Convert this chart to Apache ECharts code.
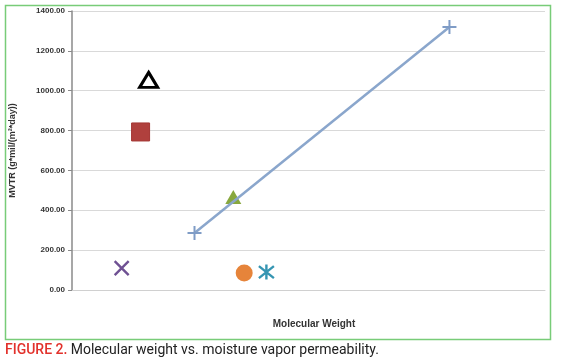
<!DOCTYPE html>
<html><head><meta charset="utf-8">
<script src="https://cdn.jsdelivr.net/npm/echarts@6/dist/echarts.min.js"></script>
<style>html,body{margin:0;padding:0;background:#fff}#c{width:562px;height:363px}</style>
</head><body><div id="c"></div>
<script>
// Y axis ticks
const yTicks = [0, 200, 400, 600, 800, 1000, 1200, 1400];
// Series (x = relative molecular weight position, y = MVTR)
const plusX = [25.9, 79.8], plusY = [286, 1320];
const openTriX = [16.2], openTriY = [1054];
const squareX = [14.5], squareY = [793];
const crossX = [10.5], crossY = [110];
const greenTriX = [34.1], greenTriY = [467];
const circleX = [36.4], circleY = [85];
const starX = [41.1], starY = [90];
const zip = (a, b) => a.map((v, i) => [v, b[i]]);

const chart = echarts.init(document.getElementById('c'));
const font = 'Liberation Sans';
chart.setOption({
  animation: false,
  backgroundColor: '#fff',
  grid: { left: 70, right: 17, top: 11, bottom: 73 },
  xAxis: {
    type: 'value', min: 0, max: 100,
    name: 'Molecular Weight', nameLocation: 'middle', nameGap: 29,
    nameTextStyle: { fontFamily: font, fontSize: 10, fontWeight: 'bold', color: '#333', padding: [0, 0, 0, 11] },
    axisLine: { show: true, lineStyle: { color: '#d0d0d0' } },
    axisTick: { show: false }, axisLabel: { show: false }, splitLine: { show: false }
  },
  yAxis: {
    type: 'value', min: yTicks[0], max: yTicks[yTicks.length - 1], interval: 200,
    name: 'MVTR (g*mil/(m²*day))', nameLocation: 'middle', nameGap: 55,
    nameTextStyle: { fontFamily: font, fontSize: 9, fontWeight: 'bold', color: '#333' },
    axisLine: { show: true, lineStyle: { color: '#8a8a8a', width: 1.5 } },
    axisTick: { show: true, length: 4, lineStyle: { color: '#8a8a8a' } },
    axisLabel: { formatter: v => v.toFixed(2), fontFamily: font, fontSize: 8, fontWeight: 'bold', color: '#333', margin: 7 },
    splitLine: { lineStyle: { color: '#d9d9d9', width: 1.2 } }
  },
  series: [
    { type: 'line', data: zip(plusX, plusY), symbol: 'path://M5,0L5,10M0,5L10,5', symbolSize: 14,
      lineStyle: { color: '#8aa6cc', width: 2.5 },
      itemStyle: { color: 'none', borderColor: '#7f9cc6', borderWidth: 2 } },
    { type: 'scatter', data: zip(openTriX, openTriY), symbol: 'triangle', symbolSize: [18, 15],
      itemStyle: { color: '#fff', borderColor: '#000', borderWidth: 3, opacity: 1 } },
    { type: 'scatter', data: zip(squareX, squareY), symbol: 'rect', symbolSize: 18,
      itemStyle: { color: '#b0403d', borderColor: '#a33532', borderWidth: 1, opacity: 1 } },
    { type: 'scatter', data: zip(crossX, crossY), symbol: 'path://M0,0L10,10M10,0L0,10', symbolSize: 14,
      itemStyle: { color: 'none', borderColor: '#6f5193', borderWidth: 2.4, opacity: 1 } },
    { type: 'scatter', data: zip(greenTriX, greenTriY), symbol: 'triangle', symbolSize: [16, 14],
      itemStyle: { color: '#88a83e', opacity: 1 } },
    { type: 'scatter', data: zip(circleX, circleY), symbol: 'circle', symbolSize: 17,
      itemStyle: { color: '#e6843a', opacity: 1 } },
    { type: 'scatter', data: zip(starX, starY), symbol: 'path://M5,0L5,10M0,1L10,9M10,1L0,9', symbolSize: 15,
      itemStyle: { color: 'none', borderColor: '#3595b2', borderWidth: 2.4, opacity: 1 } }
  ],
  graphic: [
    { type: 'rect', left: 3, top: 3, shape: { width: 545, height: 334 }, silent: true,
      style: { fill: 'none', stroke: '#78cc78', lineWidth: 1.5 } },
    { type: 'text', left: 5, top: 343,
      style: { text: '{a|FIGURE 2.} {b|Molecular weight vs. moisture vapor permeability.}',
        rich: {
          a: { fill: '#e2312b', fontFamily: 'Roboto', fontSize: 14, fontWeight: 500 },
          b: { fill: '#222', fontFamily: 'Roboto', fontSize: 14 }
        } } }
  ]
});
</script></body></html>
